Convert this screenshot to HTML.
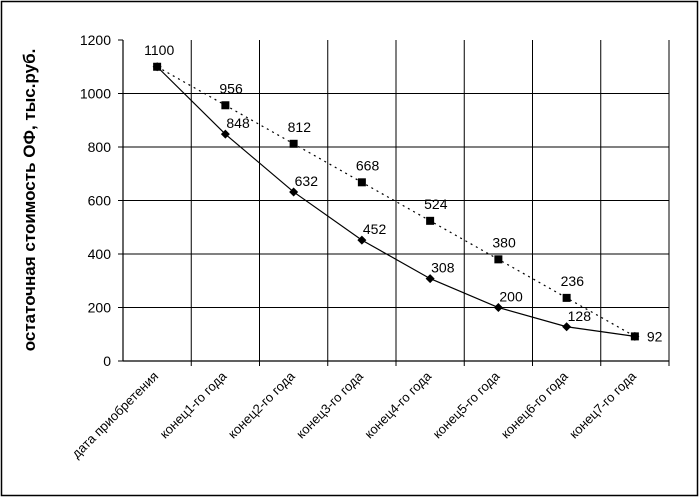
<!DOCTYPE html>
<html><head><meta charset="utf-8"><style>
html,body{margin:0;padding:0;background:#fff;}
svg{display:block;font-family:"Liberation Sans",Arial,sans-serif;}
</style></head><body>
<svg id="chart" width="700" height="502">
<rect x="1.5" y="1.5" width="696" height="494" fill="#fff" stroke="#000" stroke-width="1.5"/>
<g id="grid"></g><g id="axes"></g><g id="series"></g><g id="labels"></g>
<text x="35" y="200" transform="rotate(-90 35 200)" text-anchor="middle" font-size="17" font-weight="bold">остаточная стоимость ОФ, тыс.руб.</text>
</svg>
<script>
const categories=["дата приобретения","конец1-го года","конец2-го года","конец3-го года","конец4-го года","конец5-го года","конец6-го года","конец7-го года"];
const linearValues=[1100,956,812,668,524,380,236,92];
const decliningValues=[1100,848,632,452,308,200,128,92];
const yTicks=[0,200,400,600,800,1000,1200];
const NS="http://www.w3.org/2000/svg";
const X0=123,X1=669,Y0=361,Y1=40,YMAX=1200;
const bw=(X1-X0)/categories.length;
const xs=i=>X0+bw*(i+0.5);
const ys=v=>Y0-(v/YMAX)*(Y0-Y1);
function mk(t,a,p){const e=document.createElementNS(NS,t);for(const k in a)e.setAttribute(k,a[k]);p.appendChild(e);return e;}
const grid=document.getElementById('grid'),axes=document.getElementById('axes'),ser=document.getElementById('series'),lab=document.getElementById('labels');
yTicks.forEach(v=>{
 if(v>0&&v<YMAX){const l=mk('line',{x1:X0,x2:X1,y1:ys(v),y2:ys(v),stroke:'#000','stroke-width':1},grid);
 
 }
 const tk=mk('line',{x1:X0-5,x2:X0,y1:ys(v),y2:ys(v),stroke:'#000'},axes);
 
 
 const t=mk('text',{x:X0-12,y:ys(v)+5,'text-anchor':'end','font-size':14},axes);t.textContent=v;
 
 
});
for(let i=1;i<=categories.length;i++){
 const x=X0+bw*i;
 const l=mk('line',{x1:x,x2:x,y1:Y1,y2:Y0+5,stroke:'#000'},grid);
 
 
}
let a=mk('line',{x1:X0,x2:X0,y1:Y1,y2:Y0,stroke:'#000','stroke-width':1.2},axes);


a=mk('line',{x1:X0,x2:X1,y1:Y0,y2:Y0,stroke:'#000','stroke-width':1.2},axes);


categories.forEach((c,i)=>{
 const x=xs(i)+2,y=Y0+16;
 const t=mk('text',{x:x,y:y,'text-anchor':'end','font-size':13,transform:`rotate(-45 ${x} ${y})`},axes);t.textContent=c;
 
 
});
let p=mk('polyline',{points:linearValues.map((v,i)=>xs(i)+','+ys(v)).join(' '),fill:'none',stroke:'#000','stroke-width':1.2,'stroke-dasharray':'2,4'},ser);


p=mk('polyline',{points:decliningValues.map((v,i)=>xs(i)+','+ys(v)).join(' '),fill:'none',stroke:'#000','stroke-width':1.2},ser);


decliningValues.forEach((v,i)=>{
 const x=xs(i),y=ys(v);
 const m=mk('polygon',{points:`${x},${y-4.5} ${x+4.5},${y} ${x},${y+4.5} ${x-4.5},${y}`,fill:'#000'},ser);
 
 
 if(i>0&&i<decliningValues.length-1){
 const t=mk('text',{x:x+1,y:y-6,'font-size':14},lab);t.textContent=v;
 
 }
});
linearValues.forEach((v,i)=>{
 const x=xs(i),y=ys(v);
 const m=mk('rect',{x:x-4,y:y-4,width:8,height:8,fill:'#000'},ser);
 
 
 let tx=x+(i===0?-13:(i===linearValues.length-1?12:-6)), ty=y+(i===0?-12:(i===linearValues.length-1?5:-12));
 const t=mk('text',{x:tx,y:ty,'font-size':14},lab);t.textContent=v;
 
 
});
</script>
</body></html>
